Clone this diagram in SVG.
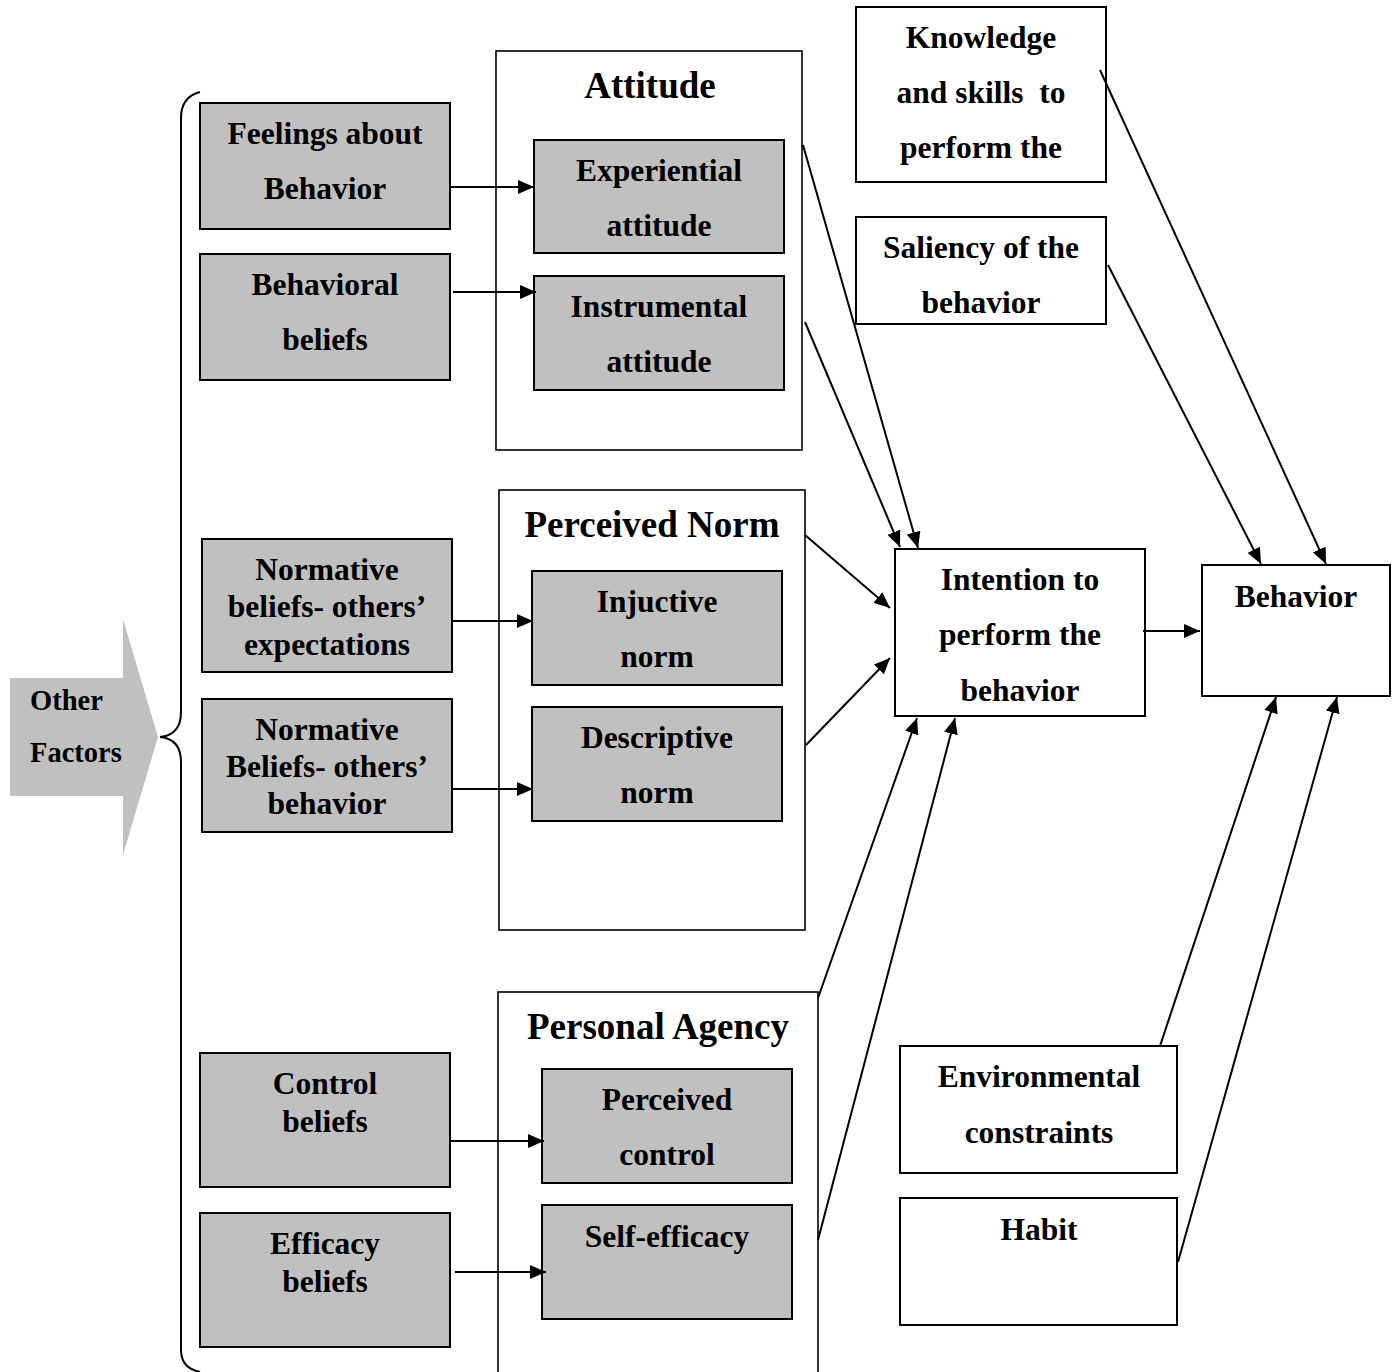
<svg xmlns="http://www.w3.org/2000/svg" width="1400" height="1372" viewBox="0 0 1400 1372">
<style>
text{font-family:"Liberation Serif","Times New Roman",serif;font-weight:bold;fill:#000;text-anchor:middle;font-size:31.5px}
.h{font-size:37px}
.of{font-size:28.5px;text-anchor:start}
.pre{white-space:pre}
.g{fill:#c0c0c0;stroke:#000;stroke-width:2}
.w{fill:#fff;stroke:#000;stroke-width:2}
.o{fill:none;stroke:#000;stroke-width:1.6}
.c line{stroke:#000;stroke-width:2}
</style>
<defs>
<marker id="ah" markerUnits="userSpaceOnUse" markerWidth="18" markerHeight="14" refX="16" refY="7" orient="auto">
<path d="M0,0 L16,7 L0,14 Z" fill="#000"/>
</marker>
</defs>
<rect width="1400" height="1372" fill="#fff"/>

<g id="other-factors">
<path d="M10,678 H123 V619 L158,737 L123,855 V796 H10 Z" fill="#c0c0c0"/>
<text class="of" x="30" y="710">Other</text>
<text class="of" x="30" y="762">Factors</text>
</g>
<g id="brace">
<path d="M200,92 Q181,97 181,118 V712 Q181,735 160,737 Q181,739 181,762 V1350 Q181,1368 200,1372" fill="none" stroke="#000" stroke-width="2"/>
</g>

<g id="attitude">
<rect class="o" x="496" y="51" width="306" height="399"/>
<text class="h" x="650" y="98">Attitude</text>
</g>
<g id="perceived-norm">
<rect class="o" x="499" y="490" width="306" height="440"/>
<text class="h" x="652" y="537">Perceived Norm</text>
</g>
<g id="personal-agency">
<rect class="o" x="498" y="992" width="320" height="400"/>
<text class="h" x="658" y="1039">Personal Agency</text>
</g>

<g id="feelings">
<rect class="g" x="200" y="103" width="250" height="126"/>
<text x="325" y="144">Feelings about</text>
<text x="325" y="199">Behavior</text>
</g>
<g id="behavioral-beliefs">
<rect class="g" x="200" y="254" width="250" height="126"/>
<text x="325" y="295">Behavioral</text>
<text x="325" y="350">beliefs</text>
</g>
<g id="experiential">
<rect class="g" x="534" y="140" width="250" height="113"/>
<text x="659" y="181">Experiential</text>
<text x="659" y="236">attitude</text>
</g>
<g id="instrumental">
<rect class="g" x="534" y="276" width="250" height="114"/>
<text x="659" y="317">Instrumental</text>
<text x="659" y="372">attitude</text>
</g>
<g id="nb-expectations">
<rect class="g" x="202" y="539" width="250" height="133"/>
<text x="327" y="580">Normative</text>
<text x="327" y="617">beliefs- others’</text>
<text x="327" y="655">expectations</text>
</g>
<g id="nb-behavior">
<rect class="g" x="202" y="699" width="250" height="133"/>
<text x="327" y="740">Normative</text>
<text x="327" y="777">Beliefs- others’</text>
<text x="327" y="814">behavior</text>
</g>
<g id="injuctive">
<rect class="g" x="532" y="571" width="250" height="114"/>
<text x="657" y="612">Injuctive</text>
<text x="657" y="667">norm</text>
</g>
<g id="descriptive">
<rect class="g" x="532" y="707" width="250" height="114"/>
<text x="657" y="748">Descriptive</text>
<text x="657" y="803">norm</text>
</g>
<g id="control-beliefs">
<rect class="g" x="200" y="1053" width="250" height="134"/>
<text x="325" y="1094">Control</text>
<text x="325" y="1132">beliefs</text>
</g>
<g id="efficacy-beliefs">
<rect class="g" x="200" y="1213" width="250" height="134"/>
<text x="325" y="1254">Efficacy</text>
<text x="325" y="1292">beliefs</text>
</g>
<g id="perceived-control">
<rect class="g" x="542" y="1069" width="250" height="114"/>
<text x="667" y="1110">Perceived</text>
<text x="667" y="1165">control</text>
</g>
<g id="self-efficacy">
<rect class="g" x="542" y="1205" width="250" height="114"/>
<text x="667" y="1247">Self-efficacy</text>
</g>

<g id="knowledge">
<rect class="w" x="856" y="7" width="250" height="175"/>
<text x="981" y="48">Knowledge</text>
<text class="pre" x="981" y="103">and skills  to</text>
<text x="981" y="158">perform the</text>
</g>
<g id="saliency">
<rect class="w" x="856" y="217" width="250" height="107"/>
<text x="981" y="258">Saliency of the</text>
<text x="981" y="313">behavior</text>
</g>
<g id="intention">
<rect class="w" x="895" y="549" width="250" height="167"/>
<text x="1020" y="590">Intention to</text>
<text x="1020" y="645">perform the</text>
<text x="1020" y="701">behavior</text>
</g>
<g id="behavior">
<rect class="w" x="1202" y="565" width="188" height="131"/>
<text x="1296" y="607">Behavior</text>
</g>
<g id="environmental">
<rect class="w" x="900" y="1046" width="277" height="127"/>
<text x="1039" y="1087">Environmental</text>
<text x="1039" y="1143">constraints</text>
</g>
<g id="habit">
<rect class="w" x="900" y="1198" width="277" height="127"/>
<text x="1039" y="1240">Habit</text>
</g>

<g id="connectors" class="c">
<line x1="450" y1="187" x2="534" y2="187" marker-end="url(#ah)"/>
<line x1="453" y1="292" x2="536" y2="292" marker-end="url(#ah)"/>
<line x1="452" y1="621" x2="533" y2="621" marker-end="url(#ah)"/>
<line x1="452" y1="789" x2="533" y2="789" marker-end="url(#ah)"/>
<line x1="450" y1="1141" x2="544" y2="1141" marker-end="url(#ah)"/>
<line x1="455" y1="1272" x2="546" y2="1272" marker-end="url(#ah)"/>
<line x1="803" y1="145" x2="918" y2="548" marker-end="url(#ah)"/>
<line x1="805" y1="322" x2="900" y2="547" marker-end="url(#ah)"/>
<line x1="805" y1="535" x2="890" y2="608" marker-end="url(#ah)"/>
<line x1="806" y1="745" x2="890" y2="658" marker-end="url(#ah)"/>
<line x1="818" y1="998" x2="917" y2="718" marker-end="url(#ah)"/>
<line x1="818" y1="1240" x2="955" y2="718" marker-end="url(#ah)"/>
<line x1="1143" y1="631" x2="1200" y2="631" marker-end="url(#ah)"/>
<line x1="1100" y1="70" x2="1326" y2="564" marker-end="url(#ah)"/>
<line x1="1108" y1="265" x2="1261" y2="564" marker-end="url(#ah)"/>
<line x1="1160" y1="1046" x2="1276" y2="697" marker-end="url(#ah)"/>
<line x1="1178" y1="1262" x2="1337" y2="697" marker-end="url(#ah)"/>
</g>
</svg>
